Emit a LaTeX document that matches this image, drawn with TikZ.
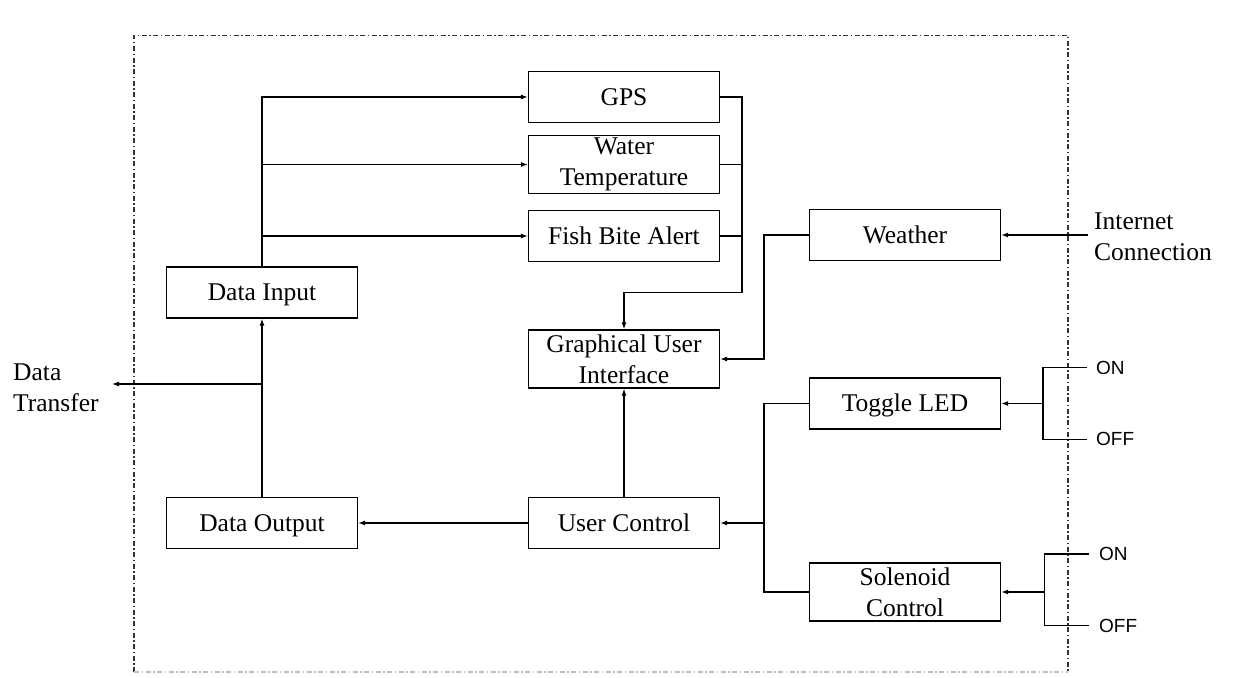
\documentclass[tikz,border=0pt]{standalone}
\usepackage{fontspec}
\setmainfont{Liberation Serif}
\newfontfamily\switchfont{Liberation Sans}
\usetikzlibrary{arrows.meta}

\tikzset{
  block/.style={draw, line width=1.2pt, minimum width=191pt, minimum height=51pt,
    inner sep=0pt, align=center, font=\fontsize{25.5}{31}\selectfont},
  oneline/.style={text height=22pt, text depth=5.2pt},
  tall/.style={minimum height=58pt},
  wire/.style={line width=1.2pt},
  flow/.style={wire, -{Latex[length=7pt,width=5pt]}},
  outtext/.style={anchor=west, inner sep=0pt, align=left, font=\fontsize{25.5}{31}\selectfont},
  switchtext/.style={anchor=west, inner sep=0pt, font=\switchfont\fontsize{19}{22}\selectfont},
  frameline/.style={line width=1.3pt, draw=black!80, dash pattern=on 5pt off 2.5pt on 1.5pt off 2.5pt},
  framebottom/.style={line width=1.2pt, draw=black!25, dash pattern=on 5pt off 2.5pt on 1.5pt off 2.5pt},
}

\begin{document}
\begin{tikzpicture}[x=1pt,y=-1pt]
\useasboundingbox (0,0) rectangle (1233,677);

% system boundary
\draw[frameline] (134,672) -- (134,35.7) -- (1068,35.7) -- (1068,672);
\draw[framebottom] (134,672) -- (1068,672);

% blocks
\node[block,oneline] (gps) at (624,97) {GPS};
\node[block,tall] (water) at (624,164.5) {Water\\Temperature};
\node[block,oneline] (fish) at (624,236) {Fish Bite Alert};
\node[block,oneline] (din) at (262,292.5) {Data Input};
\node[block,oneline] (weather) at (905,235) {Weather};
\node[block,tall] (gui) at (624,359) {Graphical User\\Interface};
\node[block,oneline] (toggle) at (905,403.5) {Toggle LED};
\node[block,oneline] (dout) at (262,523) {Data Output};
\node[block,oneline] (user) at (624,523) {User Control};
\node[block,tall] (sol) at (905,592) {Solenoid\\Control};

% outside labels
\node[outtext] (inet) at (1094,237) {Internet\\Connection};
\node[outtext] (dtr) at (13,388) {Data\\Transfer};
\node[switchtext] (on1) at (1096,367.7) {ON};
\node[switchtext] (off1) at (1096,439.3) {OFF};
\node[switchtext] (on2) at (1099,554) {ON};
\node[switchtext] (off2) at (1099,625.7) {OFF};

% junction points
\coordinate (rbus) at (742,292.5);
\coordinate (wbend) at (764,235);
\coordinate (inetx) at (1088,235);
\coordinate (dtx) at (112,384);
\coordinate (ubus) at (764,523);
\coordinate (sw1) at (1043,403.5);
\coordinate (sw2) at (1044.6,592);

% data input fan-out
\draw[flow] (din.north) |- (gps.west);
\draw[flow] (din.north |- water.west) -- (water.west);
\draw[flow] (din.north |- fish.west) -- (fish.west);

% sensors to GUI
\draw[wire] (gps.east) -| (rbus);
\draw[wire] (water.east) -- (rbus |- water.east);
\draw[wire] (fish.east) -- (rbus |- fish.east);
\draw[flow] (rbus) -| (gui.north);

% weather
\draw[flow] (weather.west) -- (wbend) |- (gui.east);
\draw[flow] (inetx) -- (weather.east);

% data path
\draw[flow] (dout.north) -- (din.south);
\draw[flow] (din.south |- dtx) -- (dtx);
\draw[flow] (user.west) -- (dout.east);
\draw[flow] (user.north) -- (gui.south);

% controls
\draw[wire] (toggle.west) -| (ubus) |- (sol.west);
\draw[flow] (ubus) -- (user.east);

% switches
\draw[flow] (sw1) -- (toggle.east);
\draw[wire] ([xshift=-9pt]on1.west) -| (sw1) |- ([xshift=-9pt]off1.west);
\draw[flow] (sw2) -- (sol.east);
\draw[wire] ([xshift=-10pt]on2.west) -| (sw2) |- ([xshift=-10pt]off2.west);
\end{tikzpicture}
\end{document}
